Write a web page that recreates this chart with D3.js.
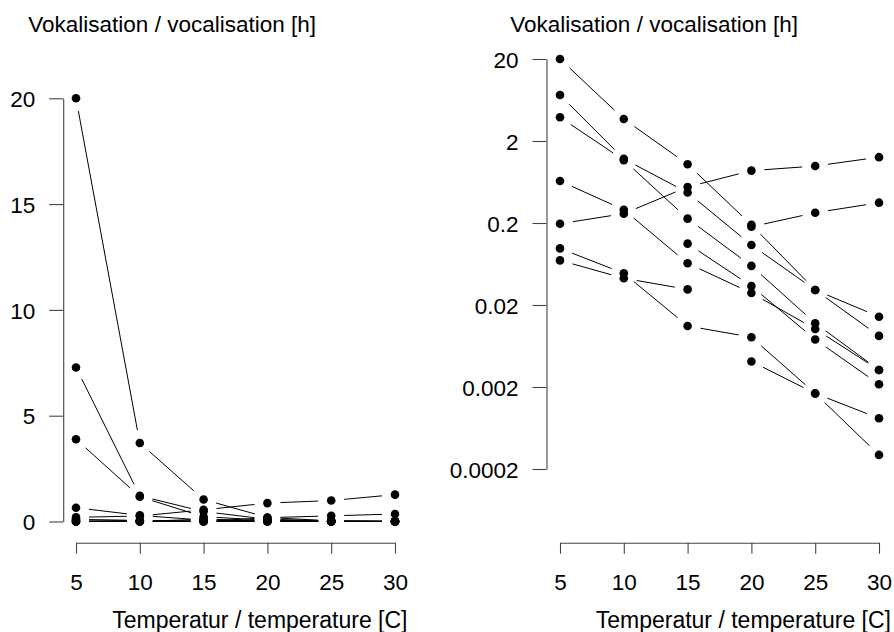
<!DOCTYPE html>
<html>
<head>
<meta charset="utf-8">
<script src="https://cdn.jsdelivr.net/npm/d3@7"></script>
<style>
  html, body { margin: 0; padding: 0; background: #fff; }
  svg text { font-family: "Liberation Sans", Arial, Helvetica, sans-serif; fill: #000; }
</style>
</head>
<body>
<svg id="chart" width="894" height="632"></svg>
<script>
// ---- data (hours of vocalisation per temperature; 0 = none, not shown on log scale)
const temperatures = [5, 10, 15, 20, 25, 30];
const s1  = [20,    3.71,   1.04,   0.19,   0.0305,  0.0144];
const s2  = [7.28,  1.21,   0.47,   0.108,  0.0305,  0.0084];
const s3  = [3.89,  1.17,   0.226,  0.06,   0.012,   0.00322];
const s4  = [0.65,  0.29,   0.0645, 0.028,  0.0102,  0.00322];
const s5  = [0.196, 0.26,   0.55,   0.87,   0.99,    1.27];
const s6  = [0.098, 0.0487, 0.0111, 0.0081, 0.00167, 0.000297];
const s7  = [0.070, 0.0424, 0.031,  0,      0,       0];
const s8  = [0,     0,      0.112,  0.034,  0.0076,  0.00216];
const s9  = [0,     0,      0,      0.18,   0.267,   0.354];
const s10 = [0,     0,      0,      0.0041, 0.00167, 0.00083];
const allSeries = [s1, s2, s3, s4, s5, s6, s7, s8, s9, s10];

const xTicks = [5, 10, 15, 20, 25, 30];
const yTicksLinear = [0, 5, 10, 15, 20];
const yTicksLog = [20, 2, 0.2, 0.02, 0.002, 0.0002];
const yTickLabelsLog = ["20", "2", "0.2", "0.02", "0.002", "0.0002"];
const yTitle = "Vokalisation / vocalisation [h]";
const xTitle = "Temperatur / temperature [C]";

// ---- layout
const svg = d3.select("#chart");
svg.append("rect").attr("width", 894).attr("height", 632).attr("fill", "#fff");
const FONT = 22.5;
const GAP = 13;     // gap between line ends and points (R type="b")
const R = 4.3;      // point radius
const AXIS_COL = "#444";
const xAxisY = 542.7;

const panels = [
  { x: d3.scaleLinear().domain([5, 30]).range([76, 395]),
    y: d3.scaleLinear().domain([0, 20]).range([521.5, 98.3]),
    axisX: 63.2, yTicks: yTicksLinear, yLabels: yTicksLinear.map(String),
    valid: v => v != null, titleX: 28.3, xTitleRight: 407.5 },
  { x: d3.scaleLinear().domain([5, 30]).range([560, 879]),
    y: d3.scaleLog().domain([0.0002, 20]).range([469, 59]),
    axisX: 546.5, yTicks: yTicksLog, yLabels: yTickLabelsLog,
    valid: v => v != null && v > 0, titleX: 510.3, xTitleRight: 891 }
];

panels.forEach(p => {
  const g = svg.append("g");

  // y axis
  const yAx = g.append("g").attr("transform", `translate(${p.axisX},0)`)
    .call(d3.axisLeft(p.y).tickValues(p.yTicks).tickSize(14).tickSizeOuter(0)
      .tickFormat((d, i) => p.yLabels[i]));
  yAx.select(".domain").attr("stroke", AXIS_COL).attr("stroke-width", 1.1);
  yAx.selectAll(".tick line").attr("stroke", AXIS_COL).attr("stroke-width", 1.1);
  yAx.selectAll(".tick text").attr("x", -28).attr("dy", "0.36em")
    .style("font-size", FONT + "px").attr("fill", "#000")
    .style("font-family", '"Liberation Sans", Arial, sans-serif');

  // x axis
  const xAx = g.append("g").attr("transform", `translate(0,${xAxisY})`)
    .call(d3.axisBottom(p.x).tickValues(xTicks).tickSize(11).tickSizeOuter(0));
  xAx.select(".domain").attr("stroke", AXIS_COL).attr("stroke-width", 1.1);
  xAx.selectAll(".tick line").attr("stroke", AXIS_COL).attr("stroke-width", 1.1);
  xAx.selectAll(".tick text").attr("y", 47.5).attr("dy", 0)
    .style("font-size", FONT + "px").attr("fill", "#000")
    .style("font-family", '"Liberation Sans", Arial, sans-serif');

  // titles
  g.append("text").attr("x", p.titleX).attr("y", 31.5)
    .style("font-size", FONT + "px").text(yTitle);
  g.append("text").attr("x", p.xTitleRight).attr("y", 628)
    .attr("text-anchor", "end").style("font-size", "23px").text(xTitle);

  // series: R type="b" lines with gaps + points
  allSeries.forEach(s => {
    const pts = s.map((v, i) => p.valid(v) ? [p.x(temperatures[i]), p.y(v)] : null);
    for (let i = 0; i < pts.length - 1; i++) {
      const a = pts[i], b = pts[i + 1];
      if (!a || !b) continue;
      const dx = b[0] - a[0], dy = b[1] - a[1];
      const d = Math.hypot(dx, dy);
      if (d <= 2 * GAP) continue;
      const ux = dx / d, uy = dy / d;
      g.append("line")
        .attr("x1", a[0] + ux * GAP).attr("y1", a[1] + uy * GAP)
        .attr("x2", b[0] - ux * GAP).attr("y2", b[1] - uy * GAP)
        .attr("stroke", "#000").attr("stroke-width", 1);
    }
    g.selectAll(null).data(pts.filter(q => q)).enter().append("circle")
      .attr("cx", q => q[0]).attr("cy", q => q[1]).attr("r", R).attr("fill", "#000");
  });
});
</script>
</body>
</html>
